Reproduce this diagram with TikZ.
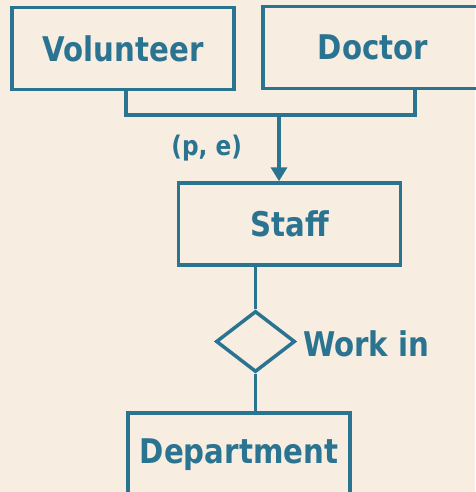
\documentclass[tikz,border=0pt]{standalone}
\usepackage{fontspec}
\setmainfont{DejaVu Sans}[FakeStretch=0.86]
\usepackage{tikz}
\usetikzlibrary{arrows.meta,shapes.geometric}
\definecolor{paper}{RGB}{247,237,224}
\definecolor{teal}{RGB}{42,116,145}
\tikzset{
  entity/.style={draw=teal,line width=3.5pt,minimum width=222pt,minimum height=82pt,
    inner sep=0pt,text=teal,font=\fontsize{34}{36}\selectfont\bfseries},
  relation/.style={draw=teal,line width=3.5pt,diamond,inner sep=0pt,
    minimum width=79pt,minimum height=61pt},
  tag/.style={text=teal,inner sep=0pt,font=\fontsize{34}{36}\selectfont\bfseries},
  link/.style={draw=teal,line width=3.5pt},
  isa/.style={link,-{Triangle[width=16pt,length=14pt]}}
}

\begin{document}
\begin{tikzpicture}[x=1pt,y=-1pt]
    \fill[paper] (0,0) rectangle (475,492);
    \useasboundingbox (0,0) rectangle (475,492);

    % entities
    \node[entity] (volunteer) at (123,48.5) {\raisebox{-2pt}{Volunteer}};
    \node[entity,minimum width=217pt] (doctor) at (371.5,47.5) {\hspace{3pt}\raisebox{-1pt}{Doctor}};
    \node[entity] (staff) at (289.5,224) {\raisebox{-1pt}{Staff}};
    \node[entity,minimum height=84pt] (department) at (239,455) {\raisebox{-2pt}{Department}};

    % relationship
    \node[relation] (workin) at (255.5,341.5) {};
    \node[tag,anchor=west] (worklabel) at (303,344) {Work in};

    % specialisation
    \coordinate (split) at (279,115);
    \draw[link] ([xshift=3pt]volunteer.south) |- (split) -| ([xshift=43.5pt]doctor.south);
    \draw[isa] (split) -- (split |- staff.north)
      node[midway,left=32pt,text=teal,font=\fontsize{27}{30}\selectfont\bfseries] (cover) {(p, e)};

    \draw[link] (workin.north |- staff.south) -- (workin.north);
    \draw[link] (workin.south) -- (workin.south |- department.north);
\end{tikzpicture}
\end{document}
